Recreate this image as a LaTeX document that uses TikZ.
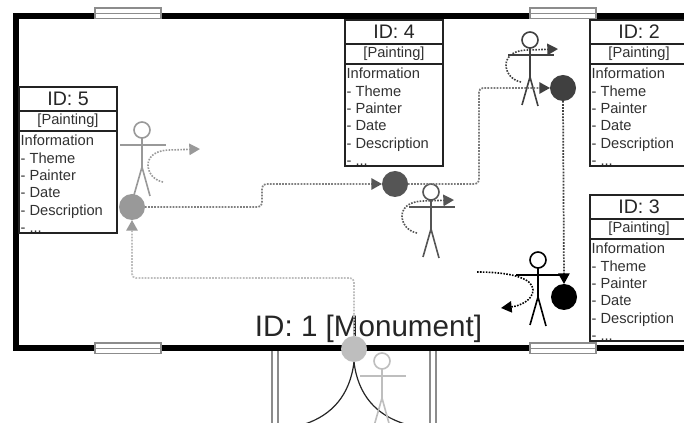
\documentclass[tikz,border=0pt]{standalone}
\usepackage{fontspec}
\setmainfont{Liberation Sans}
\usetikzlibrary{arrows.meta,positioning}
\definecolor{wkone}{RGB}{190,190,190}
\definecolor{wkfive}{RGB}{153,153,153}
\definecolor{wkfour}{RGB}{85,85,85}
\definecolor{wktwo}{RGB}{64,64,64}
\definecolor{wkthree}{RGB}{0,0,0}
\definecolor{boxline}{RGB}{35,35,35}
\definecolor{boxtext}{RGB}{50,50,50}
\newcommand{\infolines}{\raisebox{-1.4pt}[\height][\depth]{\parbox[c]{71.1pt}{\raggedright
  Information\\- Theme\\- Painter\\- Date\\- Description\\- ...}}}

\begin{document}
\begin{tikzpicture}[
    x=0.75pt,y=-0.75pt,
    wall/.style={line width=4.5pt,color=black,line join=miter},
    win/.style={draw=gray!90,fill=white,line width=0.8pt},
    jamb/.style={draw=gray!90,fill=white,line width=0.9pt},
    swing/.style={draw=black!85,line width=0.9pt},
    titlebox/.style={draw=boxline,fill=white,line width=1.4pt,outer sep=0pt,anchor=north west,
                minimum width=73.5pt,minimum height=18pt,inner sep=0pt,
                font=\fontsize{14.7}{16}\selectfont,text=black!85},
    kindbox/.style={draw=boxline,fill=white,line width=1.4pt,outer sep=0pt,
                minimum width=73.5pt,minimum height=15pt,inner sep=0pt,
                font=\fontsize{11}{13}\selectfont,text=boxtext},
    infobox/.style={draw=boxline,fill=white,line width=1.4pt,outer sep=0pt,
                minimum width=73.5pt,minimum height=76.5pt,inner xsep=1.2pt,inner ysep=0pt,
                font=\fontsize{11}{13}\selectfont,text=boxtext},
    stop/.style={circle,fill=#1,minimum size=19.5pt,inner sep=0pt,outer sep=0pt},
    route/.style={densely dotted,line width=1.3pt,rounded corners=3pt,color=#1},
    stickman/.pic={
      \draw[line width=1.2pt] (0,0) circle (8);
      \draw[line width=1.2pt] (0,8) -- (0,37);
      \draw[line width=1.2pt] (-22,15) -- (24,15);
      \draw[line width=1.2pt] (-8,65) -- (0,37) -- (8,66);
    },
    turn/.pic={
      \draw[densely dotted,line width=1.2pt,-{Triangle[length=8pt,width=8.5pt]}]
        (0,0) .. controls (-10,-2) and (-15,-10) .. (-15,-17)
        .. controls (-15,-27) and (-5,-32) .. (7,-32) -- (37,-33);
    }
  ]
    \useasboundingbox (0,0) rectangle (684,423);
    \clip (0,0) rectangle (684,423);
    \fill[white] (0,0) rectangle (684,423);

    % room
    \draw[jamb] (272,350) rectangle (278,430);
    \draw[jamb] (430,350) rectangle (436,430);
    \draw[wall] (700,16.5) -- (16,16.5) -- (16,347.5) -- (700,347.5);
    \foreach \wx/\wy in {95/8,530/8,95/343,530/343} {
      \draw[win] (\wx,\wy) rectangle ++(66,10.5);
      \draw[win] (\wx,\wy+5.2) -- ++(66,0);
    }

    % door
    \draw[swing] (354,362) .. controls (350,395) and (332,415) .. (305,424);
    \draw[swing] (354,362) .. controls (358,395) and (376,415) .. (405,424);

    % paintings
    \foreach \id/\px/\py in {5/19/87,4/345/20,2/590/20,3/590/195} {
      \node[titlebox] (title\id) at (\px,\py) {\raisebox{-0.5pt}{ID: \id}};
      \node[kindbox,below=0pt of title\id] (kind\id) {\raisebox{-0.8pt}{[Painting]}};
      \node[infobox,below=0pt of kind\id] (info\id) {\infolines};
    }

    % visitors
    \pic[color=wkone] at (382,361) {stickman};
    \pic[color=wkfive] at (142,130) {stickman};
    \pic[color=wkfour] at (431,192) {stickman};
    \pic[color=wktwo] at (530,40) {stickman};
    \pic[color=wkthree] at (538,260) {stickman};
    \pic[color=wkfive] at (163,182) {turn};
    \pic[color=wkfour] at (417,233) {turn};
    \pic[color=wktwo] at (521,82) {turn};
    \draw[densely dotted,line width=1.2pt,color=wkthree,-{Triangle[length=8pt,width=8.5pt]}]
      (477,272) .. controls (510,272) and (533,278) .. (533,290)
      .. controls (533,300) and (520,306) .. (501,308);

    \node[font=\fontsize{22.2}{24}\selectfont,text=black!85] (monument) at (368.5,329) {ID: 1 [Monument]};

    % stops
    \node[stop=wkone] (stop1) at (354,349) {};
    \node[stop=wkfive] (stop5) at (132,207) {};
    \node[stop=wkfour] (stop4) at (395,184) {};
    \node[stop=wktwo] (stop2) at (563,88) {};
    \node[stop=wkthree] (stop3) at (564,297) {};

    \draw[route=wkone,-{Triangle[length=8pt,width=8.5pt,fill=wkfive,color=wkfive]}]
      (stop1.north) |- (132,278) -- (stop5.south);
    \draw[route=gray,-{Triangle[length=8pt,width=8.5pt,fill=wkfour,color=wkfour]}]
      (stop5.east) -- (262,207) -- (262,184) -- (stop4.west);
    \draw[route=wkfive!80!black,-{Triangle[length=8pt,width=8.5pt,fill=wktwo,color=wktwo]}]
      (stop4.east) -- (479,184) -- (479,88) -- (stop2.west);
    \draw[route=wktwo,-{Triangle[length=8pt,width=8.5pt,fill=black,color=black]}]
      (stop2.south) -- (stop3.north);
  \end{tikzpicture}
\end{document}
